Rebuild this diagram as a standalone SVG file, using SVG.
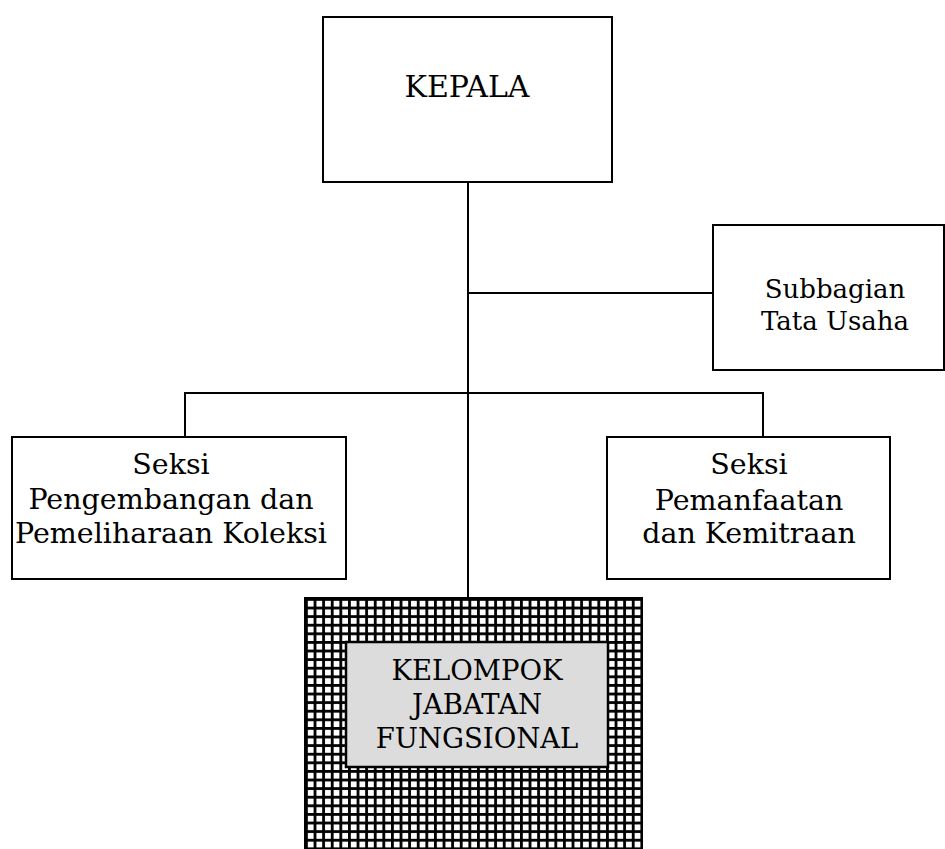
<svg xmlns="http://www.w3.org/2000/svg" width="945" height="849" viewBox="0 0 945 849">
  <style>
    .box { fill: #ffffff; stroke: #000000; stroke-width: 2; }
    .conn { fill: none; stroke: #000000; stroke-width: 2; }
    .t { font-family: "DejaVu Serif", "Liberation Serif", serif; fill: #000000; text-anchor: middle; }
    .lc { font-size: 28.5px; }
    .uc { font-size: 30px; }
    .kj { font-size: 27.5px; }
  </style>
  <defs>
    <pattern id="grid" patternUnits="userSpaceOnUse" x="305" y="598" width="8.6" height="8.6">
      <rect x="0" y="0" width="8.6" height="8.6" fill="#ffffff"/>
      <rect x="0" y="0" width="8.6" height="2.8" fill="#000000"/>
      <rect x="0" y="0" width="2.8" height="8.6" fill="#000000"/>
    </pattern>
  </defs>
  <rect width="945" height="849" fill="#ffffff"/>

  <g id="connectors">
    <path class="conn" d="M468 182 V598"/>
    <path class="conn" d="M468 293 H713"/>
    <path class="conn" d="M185 437 V393 H763 V437"/>
  </g>

  <g id="kepala">
    <rect class="box" x="323" y="17" width="289" height="165"/>
    <text class="t uc" x="467" y="97">KEPALA</text>
  </g>

  <g id="subbagian">
    <rect class="box" x="713" y="225" width="231" height="145"/>
    <text class="t" x="835" y="298" style="font-size:26px">Subbagian</text>
    <text class="t" x="835" y="330" style="font-size:26px">Tata Usaha</text>
  </g>

  <g id="seksi-pengembangan">
    <rect class="box" x="12" y="437" width="334" height="142"/>
    <text class="t lc" x="171" y="474">Seksi</text>
    <text class="t lc" x="171" y="509">Pengembangan dan</text>
    <text class="t lc" x="171" y="543">Pemeliharaan Koleksi</text>
  </g>

  <g id="seksi-pemanfaatan">
    <rect class="box" x="607" y="437" width="283" height="142"/>
    <text class="t lc" x="749" y="474">Seksi</text>
    <text class="t lc" x="749" y="510">Pemanfaatan</text>
    <text class="t lc" x="749" y="543">dan Kemitraan</text>
  </g>

  <g id="kelompok">
    <rect x="305" y="598" width="337" height="260" fill="url(#grid)" stroke="#000000" stroke-width="2"/>
    <rect x="346" y="642" width="262" height="125" fill="#dcdcdc" stroke="#000000" stroke-width="2.5"/>
    <text class="t kj" x="477" y="680">KELOMPOK</text>
    <text class="t kj" x="477" y="714">JABATAN</text>
    <text class="t kj" x="477" y="748">FUNGSIONAL</text>
  </g>
</svg>
